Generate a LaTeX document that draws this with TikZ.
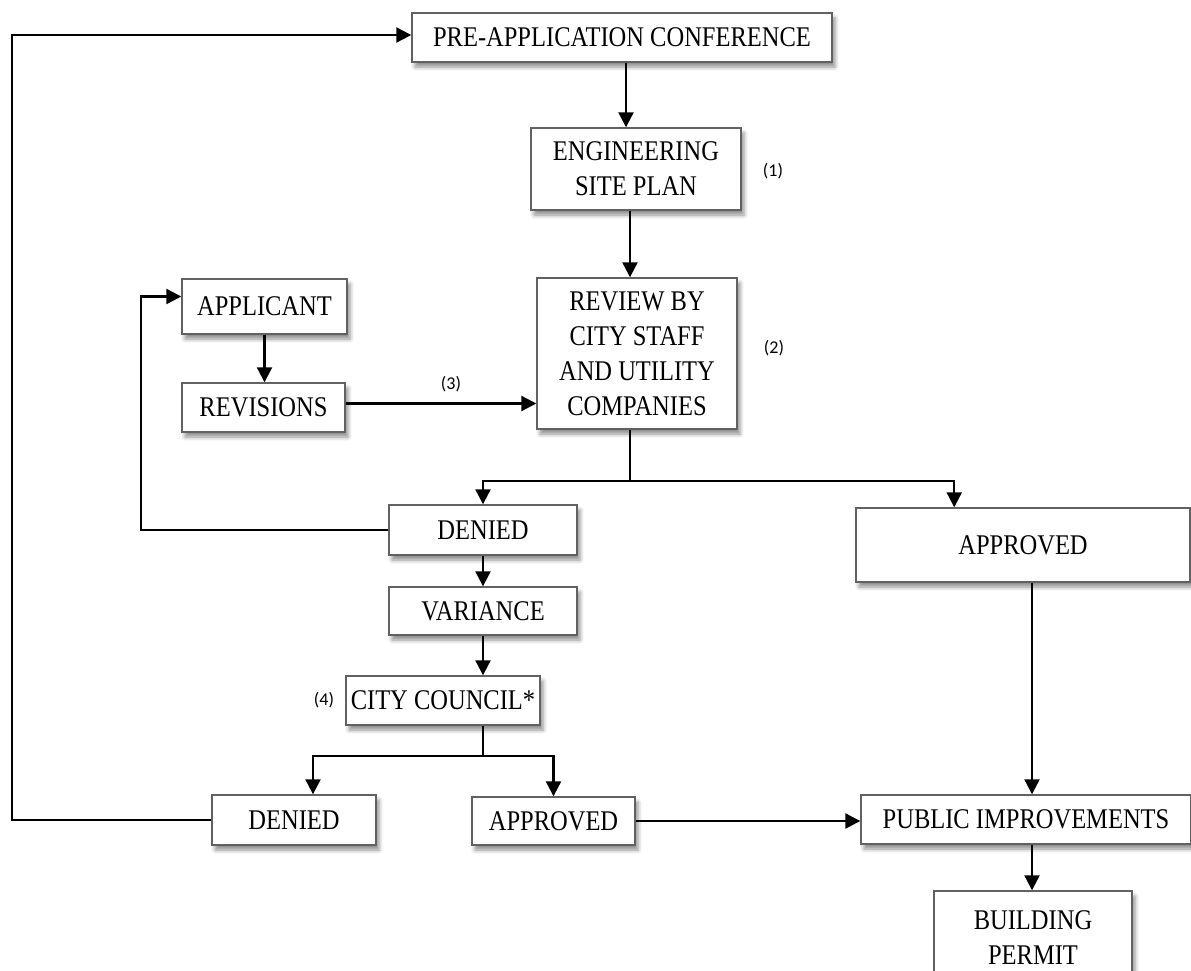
\documentclass[tikz,border=0pt]{standalone}
\usepackage{fontspec}
\setmainfont{Liberation Serif}
\newfontfamily\boxfont[FakeStretch=0.86]{Liberation Serif}
\newfontfamily\notefont{Carlito}
\usetikzlibrary{arrows.meta,shadows.blur,calc}

\begin{document}
\begin{tikzpicture}[x=1pt,y=-1pt,
  box/.style={draw=black!62, line width=1.4pt, fill=white, align=center, inner sep=0pt,
     font=\boxfont\fontsize{28.5}{35}\selectfont,
     blur shadow={shadow xshift=3pt, shadow yshift=-5pt, shadow blur radius=4pt, shadow opacity=45}},
  conn/.style={line width=2.2pt, draw=black},
  arr/.style={conn, -{Triangle[length=15pt,width=15pt]}},
  note/.style={font=\notefont\fontsize{18}{20}\selectfont, inner sep=0pt}]

\useasboundingbox (0,0) rectangle (1191,971);
\clip (0,0) rectangle (1191,971);

% process boxes
\node[box, minimum width=420, minimum height=49] (pre) at (622,37.5) {PRE-APPLICATION CONFERENCE};
\node[box, minimum width=210, minimum height=82] (eng) at (636,169) {ENGINEERING\\SITE PLAN};
\node[box, minimum width=165, minimum height=55] (applicant) at (264.5,306.5) {APPLICANT};
\node[box, minimum width=163, minimum height=49] (revisions) at (263.5,407.5) {REVISIONS};
\node[box, minimum width=200, minimum height=151] (review) at (637,353.5) {REVIEW BY\\CITY STAFF\\AND UTILITY\\COMPANIES};
\node[box, minimum width=188, minimum height=50] (denied1) at (483,530) {DENIED};
\node[box, minimum width=334, minimum height=74] (approved1) at (1023,545) {APPROVED};
\node[box, minimum width=188, minimum height=48] (variance) at (483,611) {VARIANCE};
\node[box, minimum width=194, minimum height=49] (council) at (443,700.5) {CITY COUNCIL*};
\node[box, minimum width=164, minimum height=50] (denied2) at (294,820) {DENIED};
\node[box, minimum width=163, minimum height=48] (approved2) at (553.5,821) {APPROVED};
\node[box, minimum width=330, minimum height=49] (public) at (1026,819.5) {PUBLIC IMPROVEMENTS};
\node[box, minimum width=198, minimum height=94] (building) at (1033,938) {BUILDING\\PERMIT};

% footnote markers
\node[note] (n1) at (773,171) {(1)};
\node[note] (n2) at (774,348) {(2)};
\node[note] (n3) at (451,384) {(3)};
\node[note] (n4) at (324,700) {(4)};

% helper coordinates for branch lines and loops
\coordinate (split1) at (0,481);
\coordinate (split2) at (0,756);
\coordinate (loop1) at (141,0);
\coordinate (loop2) at (12,0);
\coordinate (prein) at ($(pre.west)+(0,-2.5)$);
\coordinate (appl_in) at ($(applicant.west)+(0,-10)$);
\coordinate (engin) at ($(pre.south)+(4,0)$);
\coordinate (revin) at ($(eng.south)+(-6,0)$);
\coordinate (appin) at ($(approved1.north west)!0.295!(approved1.north east)$);
\coordinate (den2in) at ($(denied2.north)+(19,0)$);
\coordinate (pubin) at ($(public.north)+(6,0)$);

% main flow
\draw[arr] (engin) -- (engin |- eng.north);
\draw[arr] (revin) -- (revin |- review.north);
\draw[arr] (applicant.south) -- (applicant.south |- revisions.north);
\draw[arr] ($(revisions.east)+(0,-4)$) -- ($(revisions.east -| review.west)+(0,-4)$);

% review outcome split
\draw[conn] (revin |- review.south) -- (revin |- split1);
\draw[arr] (revin |- split1) -| (denied1.north);
\draw[arr] (revin |- split1) -| (appin);

% denied: back to applicant
\draw[arr] (denied1.west) -- (denied1.west -| loop1) |- (appl_in);

% variance path
\draw[arr] (denied1.south) -- (variance.north);
\draw[arr] (variance.south) -- (variance.south |- council.north);

% council outcome split
\draw[conn] (variance.south |- council.south) -- (variance.south |- split2);
\draw[arr] (variance.south |- split2) -| (den2in);
\draw[arr] (variance.south |- split2) -| (approved2.north);

% denied by council: back to pre-application
\draw[arr] (denied2.west) -- (denied2.west -| loop2) |- (prein);

% approvals lead to public improvements
\draw[arr] (approved2.east) -- (approved2.east -| public.west);
\draw[arr] (approved1.south -| pubin) -- (pubin);
\draw[arr] (public.south -| pubin) -- (pubin |- building.north);
\end{tikzpicture}
\end{document}
